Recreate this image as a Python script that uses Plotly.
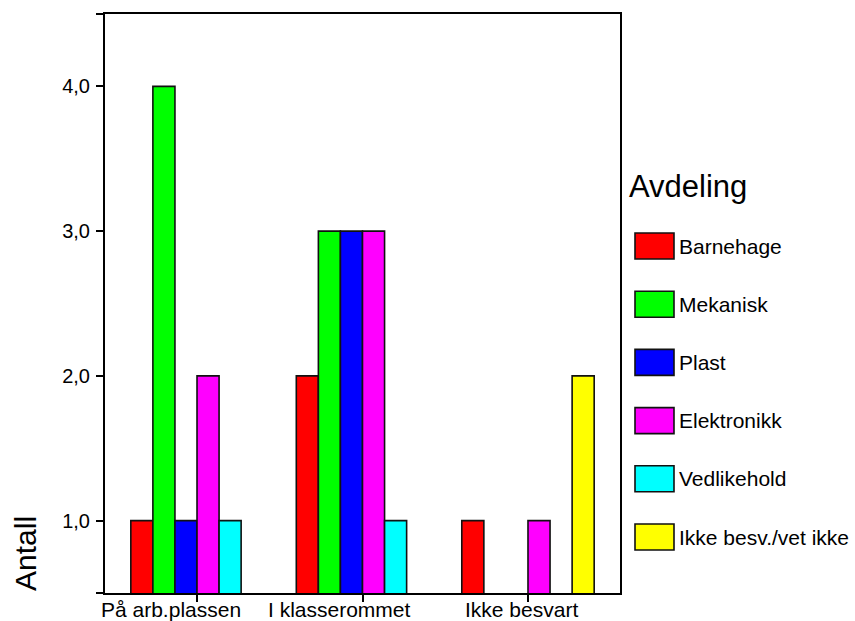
import plotly.graph_objects as go

# Survey counts per location, split by department
categories = ["På arb.plassen", "I klasserommet", "Ikke besvart"]
departments = ["Barnehage", "Mekanisk", "Plast", "Elektronikk", "Vedlikehold", "Ikke besv./vet ikke"]
colors = ["#FF0000", "#00FF00", "#0000FF", "#FF00FF", "#00FFFF", "#FFFF00"]
counts = {
    "Barnehage": [1, 2, 1],
    "Mekanisk": [4, 3, None],
    "Plast": [1, 3, None],
    "Elektronikk": [2, 3, 1],
    "Vedlikehold": [1, 1, None],
    "Ikke besv./vet ikke": [None, None, 2],
}
y_tickvals = [0.5, 1, 2, 3, 4, 4.5]
y_ticktext = ["", "1,0", "2,0", "3,0", "4,0", ""]

FONT = "Liberation Sans, Arial, sans-serif"
W, H = 855, 621
ML, MR, MT, MB = 105, 235, 14, 28
PW, PH = W - ML - MR, H - MT - MB


def px_x(x):
    return (x - ML) / PW


def px_y(y):
    return (H - MB - y) / PH


fig = go.Figure()
for name, col in zip(departments, colors):
    fig.add_trace(go.Bar(
        x=categories, y=counts[name], name=name,
        marker=dict(color=col, line=dict(color="#111111", width=1.6)),
        showlegend=False,
    ))

shapes = []
annotations = []

# Category labels under the axis (slightly left of their ticks)
label_shift = [-26, -23, -6]
for cat, dx in zip(categories, label_shift):
    annotations.append(dict(
        text=cat, xref="x", yref="paper", x=cat, y=px_y(609.5), xshift=dx,
        xanchor="center", yanchor="middle", showarrow=False, borderpad=0,
        font=dict(family=FONT, size=21, color="black"),
    ))

# Custom legend with large swatches
for i, (name, col) in enumerate(zip(departments, colors)):
    cy = 246 + i * 58.2
    shapes.append(dict(
        type="rect", xref="paper", yref="paper",
        x0=px_x(635), x1=px_x(674), y0=px_y(cy + 13), y1=px_y(cy - 13),
        fillcolor=col, line=dict(color="#111111", width=1.6),
    ))
    annotations.append(dict(
        text=name, xref="paper", yref="paper", x=px_x(677), y=px_y(cy),
        xanchor="left", yanchor="middle", showarrow=False,
        font=dict(family=FONT, size=21, color="black"),
    ))
annotations.append(dict(
    text="Avdeling", xref="paper", yref="paper", x=px_x(627), y=px_y(186),
    xanchor="left", yanchor="middle", showarrow=False,
    font=dict(family=FONT, size=31, color="black"),
))
annotations.append(dict(
    text="Antall", xref="paper", yref="paper", x=px_x(25), y=px_y(554),
    xanchor="center", yanchor="middle", showarrow=False, textangle=-90,
    font=dict(family=FONT, size=30, color="black"),
))

fig.update_layout(
    width=W, height=H,
    margin=dict(l=ML, r=MR, t=MT, b=MB, pad=0),
    paper_bgcolor="white", plot_bgcolor="white",
    barmode="group", bargap=0.2, bargroupgap=0,
    font=dict(family=FONT, size=21, color="black"),
    shapes=shapes, annotations=annotations,
    xaxis=dict(
        range=[-0.556, 2.556], showline=True, linecolor="black", linewidth=2,
        mirror=True, ticks="outside", ticklen=7, tickwidth=2, tickcolor="black",
        showgrid=False, automargin=False, showticklabels=False,
    ),
    yaxis=dict(
        range=[0.5, 4.5], tickvals=y_tickvals, ticktext=y_ticktext,
        showline=True, linecolor="black", linewidth=2, mirror=True,
        ticks="outside", ticklen=7, tickwidth=2, tickcolor="black",
        showgrid=False, zeroline=False, automargin=False, ticklabelstandoff=2,
        tickfont=dict(family=FONT, size=20, color="black"),
    ),
)

fig.write_html("out.html")
